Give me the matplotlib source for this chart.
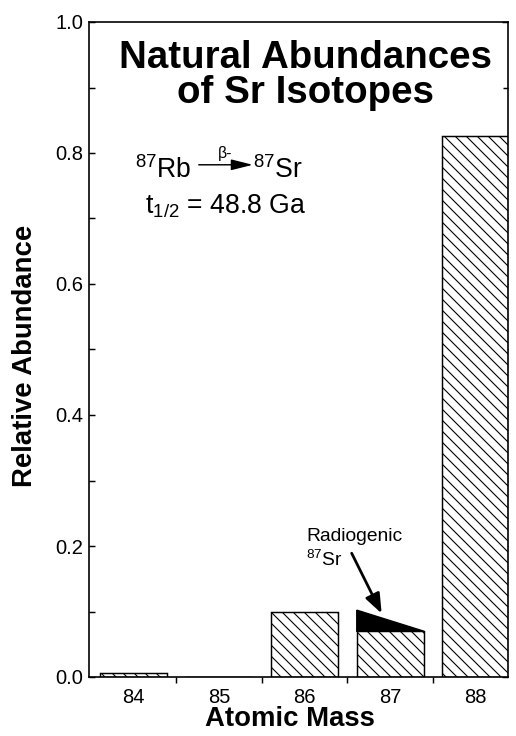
import matplotlib
matplotlib.use("Agg")
import matplotlib.pyplot as plt
from matplotlib.ticker import MultipleLocator, FixedLocator, NullFormatter

plt.rcParams.update({
    'font.family': 'Liberation Sans',
    'mathtext.fontset': 'custom',
    'mathtext.rm': 'Liberation Sans',
    'mathtext.it': 'Liberation Sans:italic',
    'mathtext.bf': 'Liberation Sans:bold',
    'hatch.linewidth': 0.6,
})

# Data
masses = [84, 85, 86, 87, 88]
abundance = [0.0056, 0.0, 0.0986, 0.0700, 0.8258]
radiogenic_top = 0.102   # top of the black radiogenic 87Sr wedge
tick_labels = ['84', '85', '86', '87', '88']

DPI = 132
fig = plt.figure(figsize=(516 / DPI, 736 / DPI), dpi=DPI)
ax = fig.add_axes([89 / 516, 1 - 677 / 736, 419 / 516, 655 / 736])

bar_w = 0.78
ax.bar(masses, abundance, width=bar_w, color='white', edgecolor='black',
       hatch='\\\\\\\\', linewidth=0.8, zorder=2)

# radiogenic wedge on top of the 87 bar
i87 = masses.index(87)
x0 = masses[i87] - bar_w / 2
x1 = masses[i87] + bar_w / 2
ax.fill([x0, x0, x1], [abundance[i87], radiogenic_top, abundance[i87]],
        color='black', linewidth=0.8, zorder=3)

ax.set_xlim(83.484, 88.375)
ax.set_ylim(0, 1.0)

# y axis: inward ticks both sides
ax.yaxis.set_major_locator(MultipleLocator(0.2))
ax.yaxis.set_minor_locator(MultipleLocator(0.1))
ax.yaxis.set_major_formatter(matplotlib.ticker.FormatStrFormatter('%.1f'))
ax.tick_params(axis='y', which='major', direction='in', length=3.5, width=0.8,
               labelsize=11, pad=3, right=True)
ax.tick_params(axis='y', which='minor', direction='in', length=3, width=0.8, right=True)

# x axis: labels at centres, tick marks between categories
ax.set_xticks(masses)
ax.set_xticklabels(tick_labels)
ax.xaxis.set_minor_locator(FixedLocator([m + 0.5 for m in masses[:-1]]))
ax.xaxis.set_minor_formatter(NullFormatter())
ax.tick_params(axis='x', which='major', length=0, labelsize=11, pad=6)
ax.tick_params(axis='x', which='minor', direction='out', length=3.5, width=0.8)

for s in ax.spines.values():
    s.set_linewidth(0.9)

ax.set_ylabel('Relative Abundance', fontsize=15, fontweight='bold')
ax.set_xlabel('Atomic Mass', fontsize=15, fontweight='bold')
ax.yaxis.set_label_coords(-0.122, 0.49)
ax.xaxis.set_label_coords(0.48, -0.044)

# title inside the plot
ax.text(0.516, 0.930, 'Natural Abundances', transform=ax.transAxes,
        ha='center', va='baseline', fontsize=21, fontweight='bold')
ax.text(0.516, 0.876, 'of Sr Isotopes', transform=ax.transAxes,
        ha='center', va='baseline', fontsize=21, fontweight='bold')

# decay scheme
ax.text(0.110, 0.762, r'$^{87}$Rb', transform=ax.transAxes, ha='left',
        va='baseline', fontsize=14.5)
ax.annotate('', xy=(0.391, 0.782), xytext=(0.262, 0.782),
            xycoords='axes fraction', textcoords='axes fraction',
            arrowprops=dict(arrowstyle='-|>,head_length=1.0,head_width=0.25',
                            color='black', lw=0.8, shrinkA=0, shrinkB=0))
ax.text(0.325, 0.799, 'β-', transform=ax.transAxes, ha='center', va='center',
        fontsize=8.5)
ax.text(0.391, 0.762, r'$^{87}$Sr', transform=ax.transAxes, ha='left',
        va='baseline', fontsize=14.5)
ax.text(0.134, 0.708, r't$_{1/2}$ = 48.8 Ga', transform=ax.transAxes, ha='left',
        va='baseline', fontsize=14.5)

# radiogenic label + arrow
ax.text(0.518, 0.214, 'Radiogenic', transform=ax.transAxes, ha='left',
        va='center', fontsize=10.5)
ax.text(0.518, 0.178, r'$^{87}$Sr', transform=ax.transAxes, ha='left',
        va='center', fontsize=10.5)
ax.annotate('', xy=(86.90, 0.097), xytext=(86.55, 0.189),
            arrowprops=dict(arrowstyle='-|>,head_length=0.9,head_width=0.35',
                            color='black', lw=1.5, shrinkA=0, shrinkB=0))

fig.savefig('out.png', dpi=DPI)
